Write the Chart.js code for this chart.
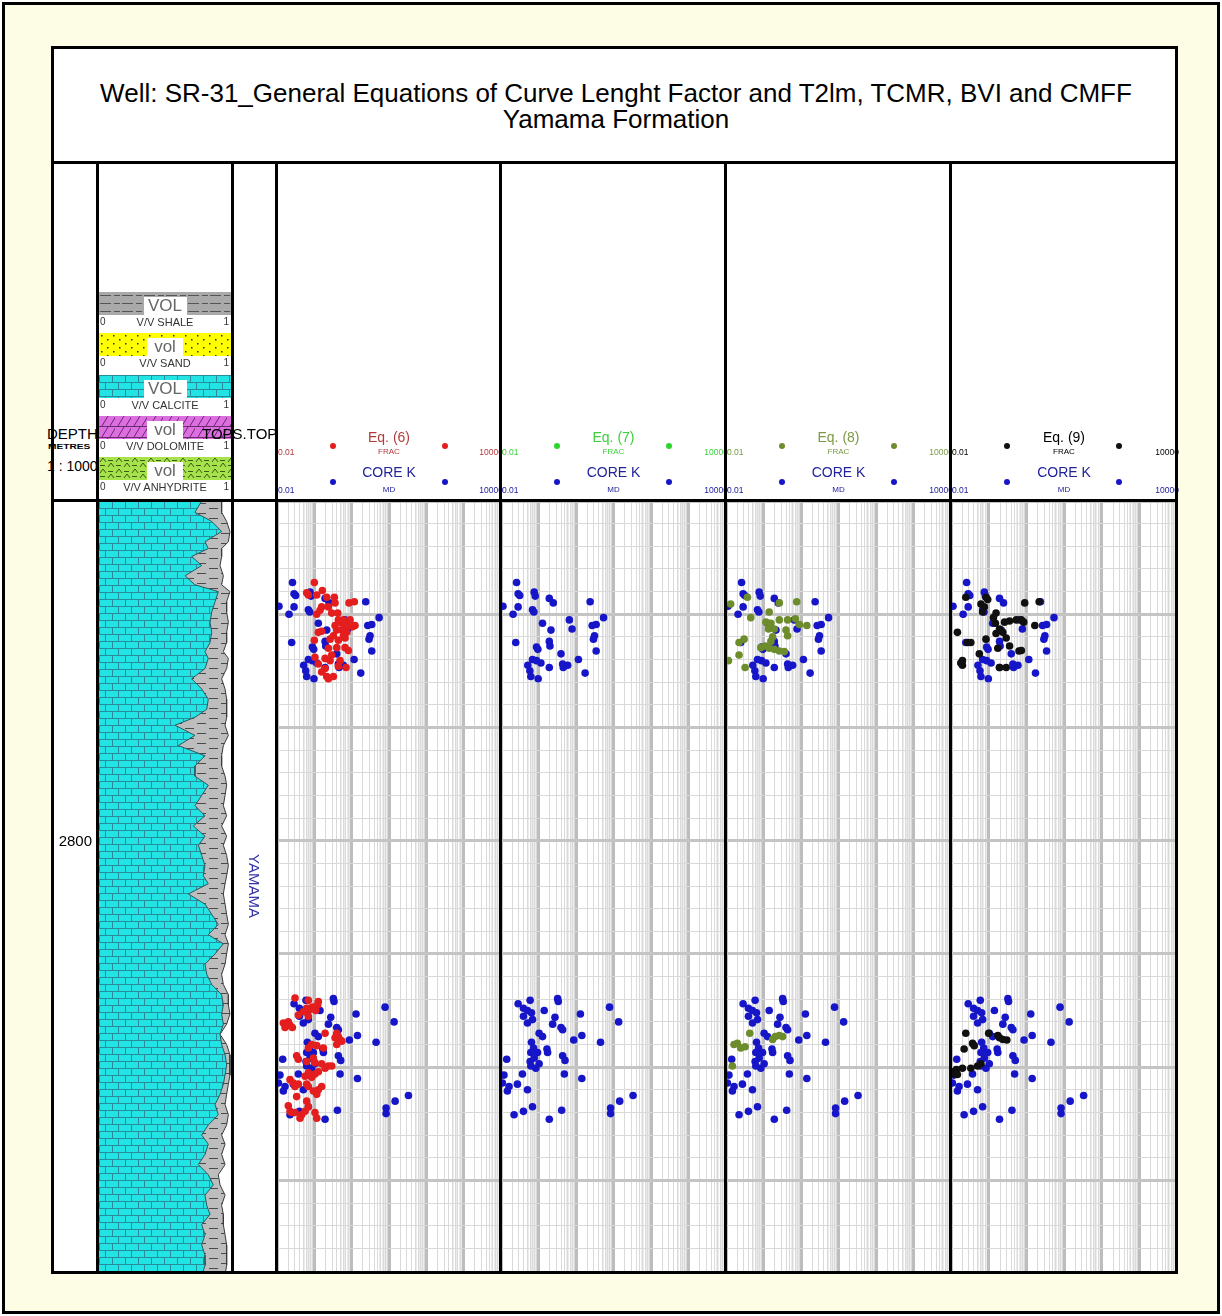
<!DOCTYPE html>
<html>
<head>
<meta charset="utf-8">
<script src="https://cdn.jsdelivr.net/npm/chart.js@4.4.0/dist/chart.umd.min.js"></script>
<style>
  html, body { margin: 0; padding: 0; background: #fff; }
  body { position: relative; width: 1222px; height: 1316px; overflow: hidden; font-family: "Liberation Sans", Arial, sans-serif; }
  .abs { position: absolute; }
</style>
</head>
<body>
<script>
// ---- depth frame ----
const DEPTH_TOP = 2770;
const DEPTH_BASE = 2838;
const DEPTH_STEP = 2;
const DEPTH_LABELS = [2800];

// ---- log scale of the data tracks ----
const SCALE_MIN = 0.01;
const SCALE_MAX = 10000;
const DECADES = [0.01, 0.1, 1, 10, 100, 1000, 10000];
const MINOR_STEPS = [2, 3, 4, 5, 6, 7, 8, 9];
const FINE_STEPS = [5.5, 6.5, 7.5, 8.5, 9.5];

// ---- track headings ----
const TRACK_TITLES = ['Eq. (6)', 'Eq. (7)', 'Eq. (8)', 'Eq. (9)'];
const TRACK_COLORS = ['#e41e1e', '#2fd52f', '#6d8c2c', '#101010'];
const TRACK_TEXT = ['#b53a3a', '#3ccf3c', '#7b9a45', '#000000'];
const CORE_COLOR = '#1616c8';
const FORMATION = 'YAMAMA';

// ---- lithology legend ----
const LITHO_NAMES = ['SHALE', 'SAND', 'CALCITE', 'DOLOMITE', 'ANHYDRITE'];
const LITHO_TAGS = ['VOL', 'vol', 'VOL', 'vol', 'vol'];

// ---- lithology curves (V/V, cumulative from left) ----
const LITH_DEPTH = [2770.0, 2771.0, 2771.8, 2772.7, 2773.6, 2774.2, 2774.9, 2775.7, 2776.6, 2777.4,
  2778.0, 2778.9, 2779.8, 2780.7, 2781.6, 2782.5, 2783.3, 2783.9, 2784.8, 2785.7,
  2786.6, 2787.5, 2788.4, 2789.1, 2789.8, 2790.7, 2791.6, 2792.5, 2793.4, 2794.3,
  2795.1, 2796.0, 2796.9, 2797.8, 2798.7, 2799.6, 2800.4, 2801.3, 2802.2, 2803.1,
  2803.8, 2804.7, 2805.6, 2806.5, 2807.4, 2808.3, 2809.1, 2810.0, 2810.9, 2811.8,
  2812.7, 2813.6, 2814.5, 2815.3, 2816.2, 2817.1, 2818.0, 2818.9, 2819.8, 2820.7,
  2821.5, 2822.4, 2823.3, 2824.2, 2825.1, 2826.0, 2826.8, 2827.7, 2828.6, 2829.5,
  2830.4, 2831.3, 2832.2, 2833.0, 2833.9, 2834.8, 2835.7, 2836.6, 2837.5, 2838.0];
const CALCITE_VOL = [0.778, 0.727, 0.854, 0.929, 0.803, 0.828, 0.702, 0.778, 0.652, 0.727,
  0.904, 0.879, 0.854, 0.841, 0.854, 0.841, 0.803, 0.828, 0.803, 0.702,
  0.778, 0.828, 0.816, 0.727, 0.576, 0.727, 0.601, 0.803, 0.727, 0.727,
  0.828, 0.778, 0.727, 0.803, 0.715, 0.803, 0.753, 0.778, 0.803, 0.790,
  0.828, 0.677, 0.803, 0.854, 0.904, 0.828, 0.942, 0.879, 0.803, 0.816,
  0.854, 0.929, 0.942, 0.929, 0.942, 0.917, 0.929, 0.955, 0.967, 0.955,
  0.942, 0.917, 0.879, 0.904, 0.828, 0.778, 0.828, 0.803, 0.753, 0.828,
  0.866, 0.803, 0.816, 0.841, 0.778, 0.803, 0.778, 0.803, 0.803, 0.790];
const SHALE_CUM = [0.929, 0.929, 0.967, 0.992, 0.980, 0.929, 0.929, 0.917, 0.942, 0.929,
  0.992, 0.967, 0.967, 0.980, 0.967, 0.967, 0.942, 0.980, 0.967, 0.929,
  0.955, 0.967, 0.967, 0.967, 0.955, 0.980, 0.942, 0.929, 0.929, 0.955,
  0.967, 0.955, 0.942, 0.967, 0.929, 0.967, 0.942, 0.967, 0.980, 0.967,
  0.955, 0.942, 0.955, 0.967, 0.980, 0.955, 0.980, 0.967, 0.955, 0.929,
  0.942, 0.980, 0.980, 0.992, 0.967, 0.917, 0.967, 0.992, 0.992, 0.992,
  0.980, 0.967, 0.955, 0.980, 0.967, 0.929, 0.955, 0.929, 0.955, 0.904,
  0.917, 0.955, 0.929, 0.942, 0.942, 0.955, 0.967, 0.967, 0.967, 0.960];

// ---- core permeability [depth m, MD] ----
const CORE_K = [
  [2777.2, 0.026], [2778.2, 0.0286], [2778.35, 0.0316], [2778.05, 0.0767], [2778.4, 0.0817],
  [2778.6, 0.194], [2779.0, 0.248], [2779.3, 0.0113], [2779.35, 0.0286], [2780.0, 0.021],
  [2779.6, 0.0692], [2779.8, 0.0752], [2780.8, 0.128], [2778.9, 2.38], [2780.3, 5.43],
  [2781.0, 2.70], [2780.9, 3.45], [2781.9, 3.11], [2782.2, 2.92], [2781.4, 0.215],
  [2781.3, 0.785], [2782.5, 0.0247], [2782.9, 0.0885], [2783.1, 0.0962], [2782.4, 0.194],
  [2782.8, 0.202], [2783.25, 3.45], [2783.5, 0.398], [2784.0, 1.16], [2784.0, 0.0692],
  [2784.1, 0.0885], [2784.3, 0.116], [2784.5, 0.0519], [2785.0, 0.0588], [2785.5, 0.0624],
  [2785.7, 0.098], [2784.7, 0.194], [2784.7, 0.459], [2784.5, 0.6], [2785.2, 1.75],
  [2784.4, 0.44], [2780.5, 0.665],
  [2814.4, 0.0286], [2814.1, 0.0598], [2813.95, 0.324], [2814.2, 0.337], [2814.8, 0.0397],
  [2815.0, 0.0508], [2815.2, 0.065], [2815.0, 0.142], [2815.5, 0.0397], [2815.8, 0.0692],
  [2816.1, 0.0508], [2815.6, 0.275], [2816.2, 0.238], [2816.5, 0.398], [2816.7, 0.44],
  [2815.3, 1.31], [2814.7, 7.85], [2816.0, 13.7], [2817.2, 1.43], [2817.6, 0.869],
  [2817.8, 4.51], [2817.0, 0.104], [2817.3, 0.128], [2817.8, 0.065], [2818.3, 0.0736],
  [2818.7, 0.0624], [2818.7, 0.0942], [2818.4, 0.168], [2818.7, 0.175], [2819.2, 0.0767],
  [2819.5, 0.0598], [2819.7, 0.104], [2819.9, 0.0624], [2820.1, 0.0849], [2819.0, 0.44],
  [2819.4, 0.509], [2819.3, 0.0142], [2820.6, 0.0373], [2820.6, 0.489], [2821.0, 1.43],
  [2820.7, 0.012], [2821.4, 0.0109], [2821.7, 0.0164], [2821.5, 0.0274], [2822.1, 0.0148],
  [2822.0, 0.0508], [2824.2, 0.0223], [2823.9, 0.0397], [2823.5, 0.0692], [2824.6, 0.194],
  [2823.8, 0.415], [2823.6, 8.36], [2824.1, 8.36], [2823.0, 14.6], [2822.5, 33.2]
];

// ---- Eq. (6) permeability [depth m, FRAC] ----
const EQ6_K = [
  [2777.2, 0.100], [2777.9, 0.164], [2778.1, 0.0624], [2778.3, 0.0692], [2778.3, 0.116],
  [2778.5, 0.215], [2778.5, 0.344], [2779.0, 0.359], [2779.35, 0.238], [2779.35, 0.157],
  [2779.65, 0.142], [2780.0, 0.116], [2779.0, 0.851], [2778.9, 1.18], [2779.9, 0.423],
  [2780.5, 0.44], [2780.5, 0.6], [2780.5, 0.906], [2781.0, 1.23], [2781.0, 0.738],
  [2781.1, 1.05], [2781.4, 0.542], [2781.4, 0.398], [2781.5, 0.157], [2781.6, 0.128],
  [2781.9, 0.324], [2781.9, 0.6], [2782.2, 0.264], [2782.3, 0.44], [2782.1, 0.665],
  [2782.3, 0.1], [2782.95, 0.398], [2782.95, 0.665], [2783.0, 0.238], [2783.2, 0.817],
  [2783.6, 0.292], [2783.9, 0.194], [2784.1, 0.264], [2784.1, 0.489], [2784.4, 0.128],
  [2784.8, 0.194], [2784.6, 0.44], [2784.7, 0.708], [2785.1, 0.157], [2785.5, 0.215],
  [2785.5, 0.324], [2785.7, 0.238], [2783.8, 0.104], [2781.0, 0.359], [2780.8, 0.542],
  [2779.9, 0.292], [2781.6, 0.738],
  [2813.9, 0.0304], [2814.1, 0.0692], [2814.2, 0.128], [2814.5, 0.123], [2814.7, 0.0885],
  [2814.8, 0.0624], [2815.1, 0.0508], [2814.9, 0.0767], [2815.0, 0.109], [2815.5, 0.0692],
  [2815.4, 0.0373], [2816.1, 0.0148], [2816.2, 0.0182], [2816.3, 0.0223], [2816.5, 0.0258],
  [2816.5, 0.0164], [2816.0, 0.0201], [2817.0, 0.194], [2817.0, 0.398], [2817.3, 0.44],
  [2817.6, 0.489], [2817.7, 0.542], [2817.4, 0.359], [2818.1, 0.116], [2818.3, 0.175],
  [2818.3, 0.0692], [2819.0, 0.0336], [2819.3, 0.0373], [2819.2, 0.0942], [2819.6, 0.104],
  [2819.5, 0.0624], [2819.7, 0.157], [2819.9, 0.238], [2819.9, 0.292], [2820.1, 0.194],
  [2820.4, 0.128], [2820.6, 0.104], [2820.5, 0.0692], [2820.9, 0.0849], [2820.8, 0.0564],
  [2821.1, 0.0223], [2821.4, 0.0274], [2821.7, 0.0304], [2821.5, 0.0373], [2821.5, 0.0624],
  [2821.7, 0.0692], [2822.1, 0.0942], [2822.4, 0.116], [2822.0, 0.128], [2823.4, 0.0201],
  [2823.9, 0.0223], [2824.0, 0.0247], [2824.2, 0.0458], [2823.9, 0.0564], [2823.5, 0.0692],
  [2823.0, 0.0624], [2824.0, 0.104], [2824.5, 0.116], [2824.5, 0.0414], [2824.0, 0.0304],
  [2822.6, 0.0336], [2821.7, 0.157], [2818.0, 0.0849], [2818.0, 0.398]
];

// ---- Eq. (7): no samples plotted ----
const EQ7_K = [];

// ---- Eq. (8) permeability [depth m, FRAC] ----
const EQ8_K = [
  [2779.1, 0.0133], [2778.5, 0.0373], [2779.8, 0.142], [2780.3, 0.0458], [2780.7, 0.116],
  [2780.8, 0.157], [2781.3, 0.136], [2781.3, 0.194], [2781.4, 0.398], [2780.5, 0.264],
  [2780.5, 0.44], [2780.4, 0.708], [2778.9, 0.769], [2781.0, 1.43], [2780.9, 0.906],
  [2781.9, 0.44], [2782.0, 0.175], [2782.4, 0.157], [2782.8, 0.111], [2783.0, 0.142],
  [2783.1, 0.194], [2783.25, 0.264], [2783.3, 0.359], [2782.2, 0.0304], [2782.5, 0.0223],
  [2783.6, 0.0223], [2784.7, 0.0323], [2782.95, 0.0849], [2779.0, 0.264], [2784.1, 0.0116],
  [2818.0, 0.0164], [2817.9, 0.0201], [2818.3, 0.0247], [2818.2, 0.0323], [2819.9, 0.0148],
  [2817.0, 0.043], [2817.55, 0.175], [2817.3, 0.206], [2817.2, 0.264], [2817.3, 0.324]
];

// ---- Eq. (9) permeability [depth m, FRAC] ----
const EQ9_K = [
  [2778.5, 0.0247], [2779.1, 0.0624], [2778.5, 0.0849], [2778.7, 0.0942], [2779.9, 0.157],
  [2780.3, 0.134], [2780.8, 0.151], [2780.7, 0.264], [2780.6, 0.359], [2780.5, 0.542],
  [2780.5, 0.738], [2780.7, 0.851], [2781.0, 1.68], [2779.0, 0.906], [2778.9, 2.19],
  [2781.6, 0.0148], [2782.5, 0.0274], [2782.5, 0.0336], [2782.2, 0.0849], [2781.7, 0.157],
  [2781.3, 0.194], [2781.6, 0.238], [2782.1, 0.292], [2782.8, 0.359], [2783.25, 0.638],
  [2783.2, 0.738], [2783.0, 0.175], [2783.5, 0.0564], [2784.1, 0.0201], [2784.5, 0.0201],
  [2784.7, 0.194], [2784.7, 0.292], [2784.3, 0.0182], [2779.8, 0.0692], [2779.35, 0.0767],
  [2817.0, 0.0247], [2818.4, 0.0223], [2817.9, 0.0373], [2818.1, 0.0414], [2817.0, 0.1],
  [2817.2, 0.175], [2817.55, 0.238], [2817.6, 0.304], [2817.4, 0.194], [2820.4, 0.0109],
  [2820.6, 0.012], [2820.2, 0.0139], [2820.1, 0.0201], [2820.1, 0.0336], [2819.9, 0.0508],
  [2819.7, 0.0624], [2820.65, 0.0148]
];

const EQ_SERIES = [EQ6_K, EQ7_K, EQ8_K, EQ9_K];

// ---------------- layout ----------------
const VX = [52, 97, 232, 276, 500, 725, 950, 1176];   // column borders
const PANEL_TOP = 47, TITLE_BOTTOM = 162, HEAD_BOTTOM = 500, PANEL_BOTTOM = 1272;
const DATA_TOP = 501, DATA_H = 770;
const FONT = '"Liberation Sans", Arial, sans-serif';

function box(x, y, w, h, css) {
    const d = document.createElement('div');
    d.className = 'abs';
    d.style.cssText += `left:${x}px;top:${y}px;width:${w}px;height:${h}px;` + (css || '');
    document.body.appendChild(d);
    return d;
}

// y is the vertical middle of the text line
function text(str, x, y, o) {
    o = Object.assign({ size: 12, color: '#000', align: 'left', weight: 'normal', z: 5 }, o);
    const w = 1400;
    const left = o.align === 'left' ? x : o.align === 'center' ? x - w / 2 : x - w;
    const d = box(left, y - o.size, w, o.size * 2,
        `font:${o.weight} ${o.size}px ${FONT};line-height:${o.size * 2}px;text-align:${o.align};` +
        `color:${o.color};white-space:nowrap;z-index:${o.z};pointer-events:none;` + (o.css || ''));
    if (o.inner) {
        const s = document.createElement('span');
        s.style.cssText = 'display:inline-block;' + o.inner;
        s.textContent = str;
        d.appendChild(s);
    } else {
        d.textContent = str;
    }
    return d;
}

function canvasAt(x, y, w, h, z) {
    const wrap = box(x, y, w, h, `z-index:${z || 1}`);
    const cv = document.createElement('canvas');
    cv.width = w; cv.height = h;
    cv.style.width = w + 'px'; cv.style.height = h + 'px';
    wrap.appendChild(cv);
    return cv;
}

// ---------------- fill patterns ----------------
function tile(w, h, draw) {
    const c = document.createElement('canvas');
    c.width = w; c.height = h;
    draw(c.getContext('2d'), w, h);
    return c;
}

const brickTile = tile(26, 14, (g, w, h) => {
    g.fillStyle = '#22e4e4'; g.fillRect(0, 0, w, h);
    g.strokeStyle = '#2a8c9a'; g.lineWidth = 1;
    g.beginPath();
    g.moveTo(0, 0.5); g.lineTo(w, 0.5);
    g.moveTo(0, 7.5); g.lineTo(w, 7.5);
    g.moveTo(0.5, 0); g.lineTo(0.5, 7); g.moveTo(13.5, 0); g.lineTo(13.5, 7);
    g.moveTo(6.5, 8); g.lineTo(6.5, 14); g.moveTo(19.5, 8); g.lineTo(19.5, 14);
    g.stroke();
});

const shaleTile = tile(24, 10, (g, w, h) => {
    g.fillStyle = '#bdbdbd'; g.fillRect(0, 0, w, h);
    g.strokeStyle = '#4a4a4a'; g.lineWidth = 1;
    g.beginPath();
    g.moveTo(2, 2.5); g.lineTo(11, 2.5);
    g.moveTo(14, 7.5); g.lineTo(23, 7.5);
    g.stroke();
});

const shaleHeadTile = tile(22, 8, (g, w, h) => {
    g.fillStyle = '#a9a9a9'; g.fillRect(0, 0, w, h);
    g.strokeStyle = '#555'; g.lineWidth = 1;
    g.beginPath();
    g.moveTo(1, 3.5); g.lineTo(12, 3.5);
    g.moveTo(15, 3.5); g.lineTo(21, 3.5);
    g.stroke();
});

const sandTile = tile(12, 8, (g, w, h) => {
    g.fillStyle = '#ffff00'; g.fillRect(0, 0, w, h);
    g.fillStyle = '#333';
    g.fillRect(2, 2, 1.5, 1.5);
    g.fillRect(8, 6, 1.5, 1.5);
});

const dolomiteTile = tile(16, 11, (g, w, h) => {
    g.fillStyle = '#dc6ee0'; g.fillRect(0, 0, w, h);
    g.strokeStyle = '#6a2a70'; g.lineWidth = 1;
    g.beginPath();
    g.moveTo(0, 10.5); g.lineTo(w, 10.5);
    g.moveTo(3, 10); g.lineTo(9, 0);
    g.moveTo(11, 10); g.lineTo(17, 0);
    g.stroke();
});

const anhydriteTile = tile(16, 11, (g, w, h) => {
    g.fillStyle = '#a6e34a'; g.fillRect(0, 0, w, h);
    g.strokeStyle = '#3e5a1a'; g.lineWidth = 1;
    g.beginPath();
    g.moveTo(1, 5); g.lineTo(4, 1); g.lineTo(7, 5);
    g.moveTo(9, 10); g.lineTo(12, 6); g.lineTo(15, 10);
    g.moveTo(9, 3.5); g.lineTo(14, 3.5);
    g.moveTo(1, 8.5); g.lineTo(6, 8.5);
    g.stroke();
});

const LITHO_TILES = [shaleHeadTile, sandTile, brickTile, dolomiteTile, anhydriteTile];

// ---------------- frame ----------------
box(2, 2, 1212, 1306, 'border:3px solid #000;background:#fdfde6;z-index:0');
box(VX[0], PANEL_TOP, VX[7] - VX[0], PANEL_BOTTOM - PANEL_TOP, 'background:#fff;z-index:0');

function vline(x, y0, y1) { box(x - 1.5, y0, 3, y1 - y0 + 1.5, 'background:#000;z-index:10'); }
function hline(y, x0, x1) { box(x0 - 1.5, y - 1.5, x1 - x0 + 3, 3, 'background:#000;z-index:10'); }

vline(VX[0], PANEL_TOP, PANEL_BOTTOM);
vline(VX[7], PANEL_TOP, PANEL_BOTTOM);
VX.slice(1, 7).forEach(x => vline(x, TITLE_BOTTOM, PANEL_BOTTOM));
[PANEL_TOP, TITLE_BOTTOM, HEAD_BOTTOM, PANEL_BOTTOM].forEach(y => hline(y, VX[0], VX[7]));

// ---------------- title ----------------
text('Well: SR-31_General Equations of Curve Lenght Factor and T2lm, TCMR, BVI and CMFF', 616, 93, { size: 26, align: 'center' });
text('Yamama Formation', 616, 119, { size: 26, align: 'center' });

// ---------------- left headers ----------------
text('DEPTH', 47, 434, { size: 15, z: 2 });
text('METRES', 48, 447, { size: 7, weight: 'bold', z: 2, inner: 'transform:scaleX(1.45);transform-origin:left center;' });
text('1 : 1000', 47, 466, { size: 14, z: 2 });
text('TOPS.TOP', 202, 434, { size: 15, z: 6 });

const STRIP_Y = [292, 333, 375, 416, 457];
LITHO_NAMES.forEach((name, i) => {
    const y0 = STRIP_Y[i];
    const cv = canvasAt(99, y0, 132, 23, 3);
    const g = cv.getContext('2d');
    g.fillStyle = g.createPattern(LITHO_TILES[i], 'repeat');
    g.fillRect(0, 0, 132, 23);
    const tagW = LITHO_TAGS[i] === 'VOL' ? 43 : 36;
    box(165 - tagW / 2, y0 + 5, tagW, 18, 'background:#fff;z-index:4');
    text(LITHO_TAGS[i], 165, y0 + 14, { size: 17, color: '#666', align: 'center', z: 5 });
    text('0', 100, y0 + 30, { size: 10, color: '#333', z: 5 });
    text('V/V ' + name, 165, y0 + 30, { size: 11, color: '#333', align: 'center', z: 5 });
    text('1', 229, y0 + 30, { size: 10, color: '#333', align: 'right', z: 5 });
});

// ---------------- track headers ----------------
function dot(x, y, color) {
    box(x - 3, y - 3, 6, 6, `border-radius:50%;background:${color};z-index:5`);
}
TRACK_TITLES.forEach((title, i) => {
    const L = VX[3 + i] + 1, W = VX[4 + i] - VX[3 + i];
    const c = TRACK_TEXT[i];
    text(title, L + W / 2, 437, { size: 14, color: c, align: 'center' });
    dot(L + 56, 446, TRACK_COLORS[i]);
    dot(L + 168, 446, TRACK_COLORS[i]);
    text('0.01', L + 1, 452, { size: 8.5, color: c });
    text('FRAC', L + W / 2, 452, { size: 8, color: c, align: 'center' });
    text('10000', L + W + 2, 452, { size: 8.5, color: c, align: 'right' });
    text('CORE  K', L + W / 2, 472, { size: 14, color: '#22229a', align: 'center' });
    dot(L + 56, 482, CORE_COLOR);
    dot(L + 168, 482, CORE_COLOR);
    text('0.01', L + 1, 490, { size: 8.5, color: '#2020a0' });
    text('MD', L + W / 2, 490, { size: 8, color: '#2020a0', align: 'center' });
    text('10000', L + W + 2, 490, { size: 8.5, color: '#2020a0', align: 'right' });
});

// formation top label
text(FORMATION, 254, 886, { size: 15, color: '#3434a4', align: 'center', css: 'transform:rotate(90deg);' });

// ---------------- charts ----------------
const depthTicks = () => {
    const t = [];
    for (let d = DEPTH_TOP; d <= DEPTH_BASE; d += DEPTH_STEP) t.push({ value: d, major: d % 10 === 0 });
    return t;
};
const logTicks = () => {
    const t = [];
    DECADES.forEach((d, i) => {
        t.push({ value: d, kind: 'major' });
        if (i === DECADES.length - 1) return;
        MINOR_STEPS.forEach(m => t.push({ value: d * m, kind: 'minor' }));
        FINE_STEPS.forEach(m => t.push({ value: d * m, kind: 'fine' }));
    });
    return t;
};
const toPts = arr => arr.map(([d, v]) => ({ x: v, y: d }));

const base = {
    animation: false,
    responsive: false,
    maintainAspectRatio: false,
    events: [],
    layout: { padding: 0, autoPadding: false },
    plugins: { legend: { display: false }, tooltip: { enabled: false } }
};

function depthScale(showGrid) {
    return {
        type: 'linear', reverse: true, min: DEPTH_TOP, max: DEPTH_BASE,
        display: showGrid,
        afterBuildTicks: s => { s.ticks = depthTicks(); },
        ticks: { display: false },
        border: { display: false },
        grid: {
            drawTicks: false,
            color: c => c.tick && c.tick.major ? '#c4c4c4' : '#d9d9d9',
            lineWidth: c => c.tick && c.tick.major ? 3 : 1
        }
    };
}

function trackChart(i) {
    const left = VX[3 + i] + 1, width = VX[4 + i] - VX[3 + i];
    const cv = canvasAt(left, DATA_TOP, width, DATA_H, 1);
    new Chart(cv, {
        type: 'scatter',
        data: {
            datasets: [
                { label: TRACK_TITLES[i], data: toPts(EQ_SERIES[i]), backgroundColor: TRACK_COLORS[i],
                  borderColor: TRACK_COLORS[i], pointRadius: 3.8, borderWidth: 0 },
                { label: 'CORE K', data: toPts(CORE_K), backgroundColor: CORE_COLOR,
                  borderColor: CORE_COLOR, pointRadius: 3.8, borderWidth: 0 }
            ]
        },
        options: Object.assign({}, base, {
            scales: {
                x: {
                    type: 'logarithmic', min: SCALE_MIN, max: SCALE_MAX,
                    afterBuildTicks: s => { s.ticks = logTicks(); },
                    ticks: { display: false },
                    border: { display: false },
                    grid: {
                        drawTicks: false,
                        color: c => !c.tick ? '#ddd' : c.tick.kind === 'major' ? '#bdbdbd' : c.tick.kind === 'minor' ? '#dadada' : '#ececec',
                        lineWidth: c => c.tick && c.tick.kind === 'major' ? 3 : 1
                    }
                },
                y: depthScale(true)
            }
        })
    });
}
[0, 1, 2, 3].forEach(trackChart);

// lithology column
const lithCv = canvasAt(99, DATA_TOP, 132, DATA_H, 1);
new Chart(lithCv, {
    type: 'line',
    data: {
        datasets: [
            { label: 'CALCITE', data: LITH_DEPTH.map((d, k) => ({ x: CALCITE_VOL[k], y: d })),
              borderColor: '#2a5a60', borderWidth: 1, pointRadius: 0, tension: 0,
              backgroundColor: lithCv.getContext('2d').createPattern(brickTile, 'repeat'), fill: 'origin' },
            { label: 'SHALE', data: LITH_DEPTH.map((d, k) => ({ x: SHALE_CUM[k], y: d })),
              borderColor: '#3a3a3a', borderWidth: 1, pointRadius: 0, tension: 0,
              backgroundColor: lithCv.getContext('2d').createPattern(shaleTile, 'repeat'), fill: 'origin' }
        ]
    },
    options: Object.assign({}, base, {
        indexAxis: 'y',
        scales: {
            x: { type: 'linear', min: 0, max: 1, display: false },
            y: Object.assign(depthScale(false), { display: false })
        }
    })
});

// depth labels
const depthCv = canvasAt(54, DATA_TOP, 42, DATA_H, 2);
new Chart(depthCv, {
    type: 'scatter',
    data: { datasets: [{ data: [] }] },
    options: Object.assign({}, base, {
        scales: {
            x: { display: false, min: 0, max: 1 },
            y: {
                type: 'linear', reverse: true, min: DEPTH_TOP, max: DEPTH_BASE, position: 'left',
                afterBuildTicks: s => { s.ticks = DEPTH_LABELS.map(v => ({ value: v })); },
                afterFit: s => { s.width = 41; },
                ticks: { display: true, color: '#000', font: { family: FONT, size: 15 }, padding: 3,
                         callback: v => String(v) },
                grid: { display: false, drawTicks: false },
                border: { display: false }
            }
        }
    })
});
</script>
</body>
</html>
